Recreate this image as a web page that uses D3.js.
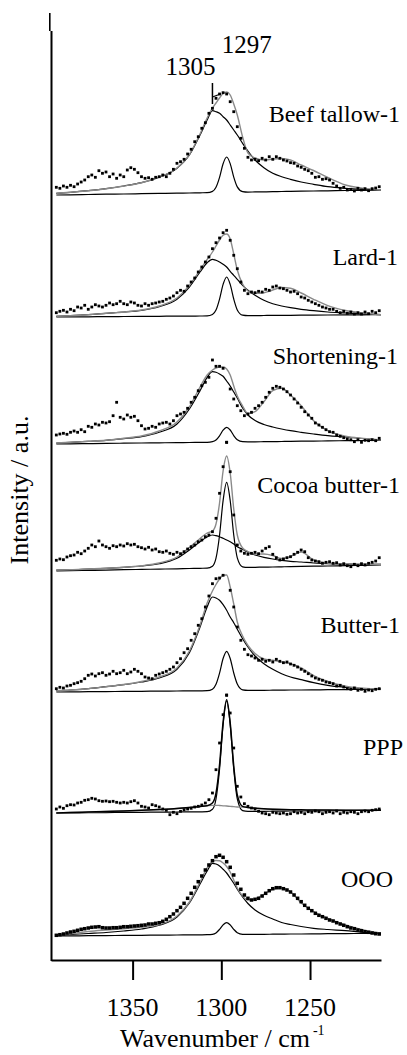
<!DOCTYPE html>
<html>
<head>
<meta charset="utf-8">
<script src="https://cdnjs.cloudflare.com/ajax/libs/d3/7.8.5/d3.min.js"></script>
<style>
  body { margin: 0; background: #fff; }
</style>
</head>
<body>
<svg width="407" height="1055" id="chart" font-family="Liberation Serif"></svg>
<script>
// wavenumbers (cm-1) of the measured points and of the fitted curves
var wnDots = [1393, 1391, 1389, 1387, 1385, 1383, 1381, 1379, 1377, 1375,
    1373, 1371, 1369, 1367, 1365, 1363, 1361, 1359, 1357, 1355,
    1353, 1351, 1349, 1347, 1345, 1343, 1341, 1339, 1337, 1335,
    1333, 1331, 1329, 1327, 1325, 1323, 1321, 1319, 1317, 1315,
    1313, 1311, 1309, 1307, 1305, 1303, 1301, 1299, 1297, 1295,
    1293, 1291, 1289, 1287, 1285, 1283, 1281, 1279, 1277, 1275,
    1273, 1271, 1269, 1267, 1265, 1263, 1261, 1259, 1257, 1255,
    1253, 1251, 1249, 1247, 1245, 1243, 1241, 1239, 1237, 1235,
    1233, 1231, 1229, 1227, 1225, 1223, 1221, 1219, 1217, 1215, 1213, 1211];
var wnFit = [1393, 1385, 1375, 1365, 1355, 1345, 1335, 1325, 1318, 1312, 1308,
    1305, 1303, 1301, 1299, 1297, 1295, 1293, 1291, 1288, 1285, 1281,
    1276, 1271, 1266, 1261, 1255, 1248, 1240, 1230, 1220, 1210];

var sampleNames = ['Beef tallow-1', 'Lard-1', 'Shortening-1', 'Cocoa butter-1', 'Butter-1', 'PPP', 'OOO'];
var offsets = [765, 643, 516, 389, 268, 147, 24]; // vertical stacking, a.u.
var xTicks = [1350, 1300, 1250];
var peakLabels = [1305, 1297];

// Beef tallow-1
var beefDots = [7.7, 6.7, 9, 7.7, 9.7, 8.3, 11, 13, 15, 18.3,
    20, 17.7, 24.3, 21.7, 23, 18.3, 21, 16.7, 20, 18.3,
    25, 27.3, 25.7, 22.3, 18.3, 16.7, 17.3, 15.7, 17.7, 18.3,
    20, 18.3, 21.7, 25.7, 31.7, 33.3, 35.7, 41, 45.7, 53.3,
    58.3, 66.7, 72.3, 81.7, 86.7, 96.7, 101, 102.3, 101, 93.3,
    83.3, 68.3, 56.7, 46.7, 37.7, 35, 35.7, 34.3, 36.7, 35,
    38.3, 35.7, 38.3, 36.7, 35, 34, 32.3, 31.7, 29, 27.7,
    25.7, 24.3, 21.7, 17.7, 18.3, 15.7, 16.3, 15, 11.7, 9,
    6.7, 7.7, 5, 5.7, 4, 6.7, 5, 6.3, 4.3, 6.3, 7, 8.3];
var beefFit = [1.7, 2.7, 4.3, 6.3, 9, 12.3, 18, 27, 40.5, 61, 77, 87, 92, 97, 101.5, 103,
    100, 91, 80, 58, 42, 37, 35, 36, 36.5, 35, 30, 24.5, 17.5, 10, 6.7, 5];
var beefBand1305 = [1.7, 2.7, 4.3, 6.3, 9, 12.3, 17.7, 26.7, 40, 60, 75, 84.3, 83.3, 81.7, 78.3, 75,
    70, 65, 60, 51.7, 44, 35, 27.3, 21.7, 18.3, 15.7, 13, 10.7, 8.3, 6.7, 5.7, 5];
var beefBand1297 = [0, 0.2, 0.5, 0.8, 1, 1.3, 1.6, 1.9, 2, 2.2, 2.3, 3.6, 7.8, 17.7, 31.3, 38,
    31.4, 17.9, 8.1, 3.4, 2.9, 3.1, 3.2, 3.3, 3.5, 3.6, 3.8, 4, 4.2, 4.5, 4.7, 5];

// Lard-1
var lardDots = [4.3, 5.7, 6.7, 5, 7.7, 6.3, 10, 9, 11.7, 7.7,
    10, 12.3, 11, 10, 11.7, 14, 12.3, 13.3, 15.7, 13.3,
    12.3, 15, 14, 11.7, 11, 13.3, 11.7, 13.3, 14, 15,
    15.7, 17.7, 19, 21, 24.3, 26.7, 25.7, 31, 35, 39,
    45, 50, 55, 60, 68.3, 74.3, 79, 84.3, 86.7, 76.7,
    61.7, 48.3, 35, 26.7, 23.3, 25, 24.3, 25.7, 25, 27.7,
    26.7, 30, 31, 29, 28.3, 26.7, 25, 25.7, 23.3, 20,
    19, 16.7, 15, 13.3, 11.7, 10, 9, 7.7, 7.7, 5.7,
    4.3, 5.7, 3.7, 5, 3, 4.3, 3, 5, 3.3, 5.7, 4.3, 6.3];
var lardFit = [0.7, 1.3, 2.3, 3.7, 5, 7, 11, 19, 31.5, 47, 57.5, 65, 71, 77, 81.7, 83,
    78, 63, 47, 33, 26, 23.7, 24.3, 27, 29.5, 28.7, 24, 17.7, 11.3, 6.5, 4, 2.3];
var lardBand1305 = [0.7, 1.3, 2.3, 3.7, 5, 6.7, 10.3, 17.7, 30, 45, 54.3, 57.7, 56.7, 55, 52.7, 50,
    45.7, 41.7, 37.7, 31.7, 26.7, 21.7, 16.7, 13.3, 11, 9.3, 7.7, 6.3, 5, 4, 3, 2.3];
var lardBand1297 = [0, 0.1, 0.2, 0.4, 0.5, 0.6, 0.7, 0.9, 0.9, 1, 1.1, 2.5, 6.9, 17.9, 32.6, 40,
    32.6, 18, 7.1, 1.9, 1.4, 1.4, 1.5, 1.6, 1.6, 1.7, 1.8, 1.9, 2, 2.1, 2.2, 2.3];

// Shortening-1
var shortDots = [9, 10, 10.7, 9.7, 11.7, 13, 11.7, 14.3, 12.3, 17.7,
    16.7, 20, 19, 21.7, 21, 22.3, 28.3, 41.7, 26.7, 25,
    29, 26.7, 27.7, 23.3, 18.3, 15, 15.7, 17.7, 16.7, 20,
    21, 21.7, 20, 23.3, 28.3, 30, 31.7, 35.7, 41.7, 46.7,
    53.3, 58.3, 61.7, 66.7, 84, 77.7, 77.7, 75.7, 1.7, 55,
    45, 38.3, 33.3, 28.3, 30, 31.7, 35.7, 38.3, 41.7, 46.7,
    51.7, 55.7, 57.7, 56.7, 55, 52.3, 49, 45, 41, 36.7,
    32.3, 29, 25.7, 21, 19, 16.7, 14.3, 12.3, 11.7, 9,
    7.7, 6.3, 5, 4.3, 2.3, 4.3, 1.7, 3.7, 3.3, 4.3, 3.3, 5.7];
var shortFit = [1, 1.7, 2.7, 3.7, 5.7, 8, 13, 22, 37, 57, 69, 74, 76, 77, 77, 75,
    69, 58, 48, 38, 30.5, 32.3, 42.3, 53.3, 55.7, 49, 38.3, 23.3, 13.3, 7.7, 5.5, 4];
var shortBand1305 = [1, 1.7, 2.7, 3.7, 5.3, 7.3, 11.7, 20, 35, 53.3, 66.7, 72.3, 71.7, 70, 67.7, 63,
    58, 52, 46, 36, 29, 23.5, 19.5, 17, 15, 13.3, 11.7, 10, 8.3, 7, 5.5, 4];
var shortBand1297 = [0, 0.2, 0.4, 0.6, 0.8, 1, 1.2, 1.4, 1.5, 1.6, 1.7, 2.3, 4, 8.2, 13.9, 16.7,
    14, 8.4, 4.2, 2.3, 2.2, 2.2, 2.3, 2.4, 2.5, 2.6, 2.8, 2.9, 3.1, 3.3, 3.5, 3.7];

// Cocoa butter-1
var cocoaDots = [10.7, 12, 11.3, 14, 15.3, 16, 18.7, 17.3, 20, 22.7,
    26, 24.3, 30, 26, 24.3, 22.7, 25.3, 24.3, 26, 25,
    27.3, 26, 26.7, 24.3, 23.3, 22, 23.7, 21, 22, 19.3,
    18.7, 20, 17.7, 16.7, 18.7, 17.3, 19.3, 22, 24.3, 26,
    29.3, 31, 34.3, 36, 39.3, 52.7, 77.7, 104.3, 128.7, 99.3,
    56, 26, 20, 17.7, 16.7, 17.7, 18.7, 17.3, 20, 22.7,
    24.3, 16.7, 13.3, 11, 12, 13.3, 14.3, 16.7, 18.7, 21,
    19.3, 13.3, 11, 10, 9.3, 7.7, 8.7, 9.3, 7.7, 8.3,
    6, 7.3, 5.3, 4.3, 6.7, 5.3, 7.3, 6, 7.7, 8.7, 10, 13.3];
var cocoaFit = [1, 1.3, 2, 2.7, 3.7, 5.3, 8, 14, 23.5, 32.5, 38, 40, 47, 68, 100, 115,
    98, 62, 36, 23, 19.5, 17, 17, 15.5, 12.5, 14.5, 19, 11, 7.7, 7.2, 6.8, 6.7];
var cocoaBand1305 = [1, 1.3, 2, 2.7, 3.7, 5, 7.3, 12.7, 21, 29.3, 34, 36, 35.3, 34.3, 32.7, 31,
    29.3, 27, 24.3, 21.7, 18.7, 16, 13.7, 12, 10.7, 9.7, 9, 8, 7.3, 7, 6.7, 6.7];
var cocoaBand1297 = [0, 0.3, 0.6, 0.9, 1.3, 1.6, 1.9, 2.2, 2.5, 2.7, 2.8, 4.8, 12.8, 35.8, 70.4, 88.7,
    70.5, 36, 13.2, 4.2, 3.6, 3.7, 3.9, 4, 4.2, 4.4, 4.6, 4.8, 5, 5.4, 5.7, 6];

// Butter-1
var butterDots = [3.3, 4.7, 4, 6, 6.7, 8.3, 9.3, 10.7, 13.3, 16.7,
    18, 16, 18.3, 19.3, 16.7, 18, 20.7, 18.3, 19.3, 21.7,
    18.3, 20, 22.7, 20.7, 18.3, 15, 14, 13.3, 16.7, 18,
    19.3, 20.7, 22.7, 25, 29.3, 33.3, 39.3, 43.3, 51.7, 58.3,
    66.7, 73.3, 85, 96, 108.3, 113.3, 114, 116.7, -3.3, 101.7,
    85, 65, 51.7, 42.7, 37.3, 36, 34, 31.7, 32.7, 30.7,
    31.7, 30, 32.7, 30.7, 29.3, 30, 28, 26.7, 25, 22.7,
    20.7, 18.3, 16, 14, 12.7, 11.7, 10, 9.3, 8.3, 6,
    6.7, 5, 3.3, 2.7, 4, 1.7, 2.7, 0.7, 2, 1.3, 2.7, 3.3];
var butterFit = [1.3, 2, 3.3, 5.3, 7.5, 10.5, 15, 24, 41, 67, 89, 101, 107.5, 113, 116.7, 117,
    105, 88, 70, 56, 46.5, 38.5, 33, 31.7, 30, 28.3, 24, 16.5, 10.5, 5.7, 3.7, 2.7];
var butterBand1305 = [1.3, 2, 3.3, 5.3, 7.3, 10, 14, 22.7, 39.3, 65, 85, 95, 94, 91.7, 87.3, 81.7,
    75, 69.3, 62.7, 53.3, 45, 36, 28.3, 22.7, 18.3, 15, 12.3, 9.3, 6.7, 4.7, 3.3, 2.7];
var butterBand1297 = [0, 0.1, 0.3, 0.4, 0.6, 0.7, 0.9, 1, 1.1, 1.2, 1.3, 2.8, 7.7, 18.9, 33.5, 40.7,
    33.5, 19, 7.9, 2.1, 1.6, 1.7, 1.7, 1.8, 1.9, 2, 2, 2.1, 2.3, 2.4, 2.6, 2.7];

// PPP
var pppDots = [4, 6, 4.7, 7.3, 8.3, 8, 10, 10.7, 12.7, 13.3,
    14.7, 14, 12.3, 11.7, 12, 11.3, 11.7, 10.7, 10, 10.7,
    10, 11.3, 12.3, 10, 6.7, 6, 5, 8.3, 7.3, 6,
    4, 2.7, -1.7, 0.7, -0.7, 1.7, 3.3, 4, 4.7, 6,
    6.7, 8, 10, 13.3, 20, 43.3, 70, 98.3, 118, 100,
    65, 26.7, 16, 9.3, 6.7, 5, 4, 1.7, 0, -0.7,
    -1.7, 0.7, 0, -0.7, 0, -1.3, -0.7, 1.3, 0, 0.7,
    -0.7, 1.3, 0.7, 2, 1.3, -0.7, 0.7, 1.3, 0, 2,
    -0.7, 0.7, 0, 1.3, 0.7, -0.7, 1.3, 2, 1.3, 2.7, 3.3, 4];
var pppFit = [0, 0.5, 1, 1.5, 2, 2.7, 3.5, 4.5, 5.5, 6.5, 7.3, 10, 19.9, 48.2, 90.7, 113.2,
    90.2, 47, 18.2, 6.6, 5.5, 4.8, 4.2, 3.8, 3.5, 3.3, 3.2, 3, 2.9, 2.8, 2.7, 2.7];
var pppBand1305 = [0, 0.5, 1, 1.5, 2, 2.7, 3.5, 4.5, 5.5, 6.5, 7.3, 7.7, 7.7, 7.5, 7.2, 7,
    6.7, 6.3, 6, 5.8, 5.5, 4.8, 4.2, 3.8, 3.5, 3.3, 3.2, 3, 2.9, 2.8, 2.7, 2.7];
var pppBand1297 = [0, 0.1, 0.3, 0.4, 0.6, 0.7, 0.9, 1, 1.1, 1.2, 1.3, 3.7, 14, 43.8, 88.4, 112,
    88.4, 43.9, 14.2, 2.4, 1.6, 1.7, 1.7, 1.8, 1.9, 2, 2, 2.1, 2.3, 2.4, 2.6, 2.7];

// OOO
var oooDots = [0.7, 1.3, 2, 3, 4, 4.7, 5.7, 6.7, 7.3, 8,
    8.7, 9, 9.3, 8.3, 8, 8, 8.3, 8.3, 8.7, 9.3,
    9.3, 9.7, 10, 10.3, 10.7, 11, 12, 12, 12.7, 13.3,
    14.7, 16.7, 19.3, 22, 25.3, 28.7, 32.7, 37.7, 42.7, 48.7,
    54.3, 60, 66, 71, 75.3, 79.3, 80.7, 78.7, 74.3, 68.7,
    61, 52.7, 46.7, 41, 37.7, 36, 36.7, 37.7, 40, 42.7,
    45.3, 47.3, 48.3, 48.3, 47.3, 46, 44, 41, 37.7, 34.3,
    30.7, 27.7, 25.3, 22.7, 20.7, 19.3, 17.7, 16, 15, 13.3,
    12, 10.7, 9.3, 8, 7.3, 6, 5.3, 4.3, 3.7, 3, 2.3, 2];
var oooFit = [0.7, 2.3, 4.5, 6, 7.3, 8.7, 11.3, 20, 34, 54, 68, 74.5, 75.5, 75.3, 73, 69.5,
    64, 56, 48, 40, 36, 37, 41.7, 46.7, 48, 44.3, 33, 24.5, 17.7, 11, 6, 2.7];
var oooBand1305 = [0.7, 1.5, 2.5, 3.5, 5, 7, 10.7, 19, 33, 52, 65, 72.7, 72, 70, 66.7, 63,
    58, 52.7, 46.7, 39, 32.5, 26, 20.7, 17, 13.5, 11.5, 9.5, 7.7, 6.5, 5.3, 3.7, 2.7];
var oooBand1297 = [0, 0.1, 0.3, 0.4, 0.6, 0.7, 0.9, 1, 1.1, 1.2, 1.3, 1.7, 3.1, 6.6, 11.1, 13.4,
    11.1, 6.7, 3.3, 1.7, 1.6, 1.7, 1.7, 1.8, 1.9, 2, 2, 2.1, 2.3, 2.4, 2.6, 2.7];

var dotSets = [beefDots, lardDots, shortDots, cocoaDots, butterDots, pppDots, oooDots];
var fitSets = [beefFit, lardFit, shortFit, cocoaFit, butterFit, pppFit, oooFit];
var band1305Sets = [beefBand1305, lardBand1305, shortBand1305, cocoaBand1305, butterBand1305, pppBand1305, oooBand1305];
var band1297Sets = [beefBand1297, lardBand1297, shortBand1297, cocoaBand1297, butterBand1297, pppBand1297, oooBand1297];

var grey = '#8a8a8a';

var svg = d3.select('#chart');

var x = d3.scaleLinear().domain([1396, 1210]).range([51, 381]);
var y = d3.scaleLinear().domain([0, 930]).range([960, 30]);

// all texts are appended straight to the svg, font set on each
function addText(str, size) {
    return svg.append('text')
        .style('font-family', 'Liberation Serif')
        .style('font-size', (size || 24) + 'px')
        .text(str);
}

// label placement for each spectrum: right end and baseline
var labelX = [400, 398, 398, 400, 400, 403, 393];
var labelY = [122, 265, 364, 493, 633, 755, 887];

sampleNames.forEach(function(name, k) {
    var off = offsets[k];
    var g = svg.append('g').attr('class', 'spectrum');
    var isPPP = name === 'PPP';

    var line = d3.line()
        .x(function(d, i) { return x(wnFit[i]); })
        .y(function(d) { return y(off + d); })
        .curve(d3.curveMonotoneX);

    // component bands
    g.append('path').datum(band1297Sets[k])
        .attr('d', line).attr('fill', 'none')
        .attr('stroke', '#000').attr('stroke-width', 1.2);
    g.append('path').datum(band1305Sets[k])
        .attr('d', line).attr('fill', 'none')
        .attr('stroke', isPPP ? grey : '#000').attr('stroke-width', isPPP ? 1.3 : 1.2);
    // total fit
    g.append('path').datum(fitSets[k])
        .attr('d', line).attr('fill', 'none')
        .attr('stroke', isPPP ? '#000' : grey).attr('stroke-width', isPPP ? 1.5 : 1.4);

    // measured points
    var s = name === 'OOO' ? 3.5 : 2.8;
    g.selectAll('rect.pt').data(dotSets[k]).enter().append('rect')
        .attr('class', 'pt')
        .attr('x', function(d, i) { return x(wnDots[i]) - s / 2; })
        .attr('y', function(d) { return y(off + d) - s / 2; })
        .attr('width', s).attr('height', s)
        .attr('fill', '#000');
});

sampleNames.forEach(function(name, k) {
    addText(name).attr('x', labelX[k]).attr('y', labelY[k]).attr('text-anchor', 'end');
});

// peak position marks above the top spectrum
svg.append('line')
    .attr('x1', x(peakLabels[0])).attr('x2', x(peakLabels[0]))
    .attr('y1', y(offsets[0] + 112)).attr('y2', y(offsets[0] + 91))
    .attr('stroke', '#000').attr('stroke-width', 1.5);
svg.append('line')
    .attr('x1', x(peakLabels[0])).attr('x2', x(1300.5))
    .attr('y1', y(offsets[0] + 98)).attr('y2', y(offsets[0] + 101))
    .attr('stroke', '#000').attr('stroke-width', 1.3);
addText(peakLabels[0], 25).attr('x', x(peakLabels[0]) + 3).attr('y', 75).attr('text-anchor', 'end');
addText(peakLabels[1], 25).attr('x', x(peakLabels[1]) - 5).attr('y', 53);

// x axis: line and ticks from d3, labels as plain texts
var xAxis = d3.axisBottom(x)
    .tickValues(xTicks)
    .tickSize(20)
    .tickSizeOuter(0)
    .tickFormat('');

var ax = svg.append('g')
    .attr('transform', 'translate(0,960)')
    .call(xAxis);
ax.select('.domain').attr('stroke-width', 2);
ax.selectAll('.tick line').attr('stroke-width', 2);
ax.selectAll('.tick text').remove();
xTicks.forEach(function(t) {
    addText(t, 26).attr('x', x(t)).attr('y', 1016).attr('text-anchor', 'middle');
});

// y axis line (no ticks)
svg.append('line')
    .attr('x1', 51.5).attr('x2', 51.5).attr('y1', 31).attr('y2', 961)
    .attr('stroke', '#000').attr('stroke-width', 2);
svg.append('line')
    .attr('x1', 49.8).attr('x2', 49.8).attr('y1', 13).attr('y2', 31)
    .attr('stroke', '#000').attr('stroke-width', 1.6);

// axis titles
var xt = addText('Wavenumber / cm', 26).attr('x', 120).attr('y', 1047);
var xtLen = xt.node().getComputedTextLength();
addText('-1', 14).attr('x', 120 + xtLen + 3).attr('y', 1035);

addText('Intensity / a.u.', 26)
    .attr('transform', 'translate(28,490) rotate(-90)')
    .attr('text-anchor', 'middle');
</script>
</body>
</html>
